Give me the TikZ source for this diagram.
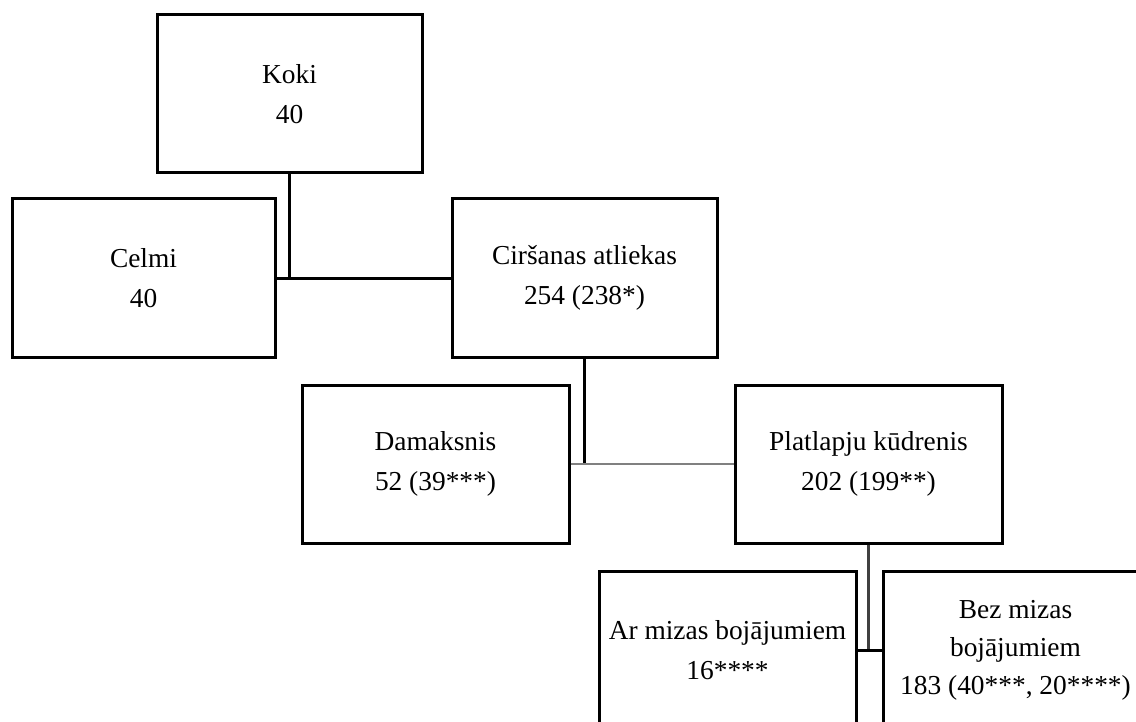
\documentclass[tikz,border=0pt]{standalone}
\usepackage{fontspec}
\setmainfont{Liberation Serif}

\begin{document}
\begin{tikzpicture}[x=0.5pt, y=-0.5pt,
    box/.style={draw, line width=1.5pt, rectangle, align=center, inner sep=0pt,
        minimum width=132.5pt, minimum height=79pt, font=\fontsize{13.7}{20}\selectfont},
    link/.style={line width=1.5pt}]
    \useasboundingbox (0,0) rectangle (1136,722);
    \clip (0,0) rectangle (1136,722);

    \node[box] (koki) at (289.5,94) {Koki\\40};
    \node[box, minimum width=131.5pt] (celmi) at (143.5,278) {Celmi\\40};
    \node[box] (cirsana) at (584.5,278) {Ciršanas atliekas\\254 (238*)};
    \node[box, minimum width=133.5pt] (damaksnis) at (435.5,464) {Damaksnis\\52 (39***)};
    \node[box, minimum width=133.5pt] (platlapju) at (868.5,464) {Platlapju kūdrenis\\202 (199**)};
    \node[box, minimum width=128.5pt] (armizas) at (727.5,650.5) {Ar mizas bojājumiem\\16****};
    \node[box, font=\fontsize{13.7}{19}\selectfont] (bezmizas) at (1015.5,650.5) {Bez mizas\\bojājumiem\\183 (40***, 20****)};

    \draw[link] (koki.south) -- (koki.south |- celmi.east);
    \draw[link] (celmi.east) -- (cirsana.west);
    \draw[link] (cirsana.south) -- (cirsana.south |- damaksnis.east);
    \draw[line width=1.4pt, gray] (damaksnis.east) -- (platlapju.west);
    \draw[link, darkgray] (platlapju.south) -- (platlapju.south |- armizas.east); % bottom pair
    \draw[line width=1.2pt] (armizas.east) -- (bezmizas.west);

\end{tikzpicture}
\end{document}
